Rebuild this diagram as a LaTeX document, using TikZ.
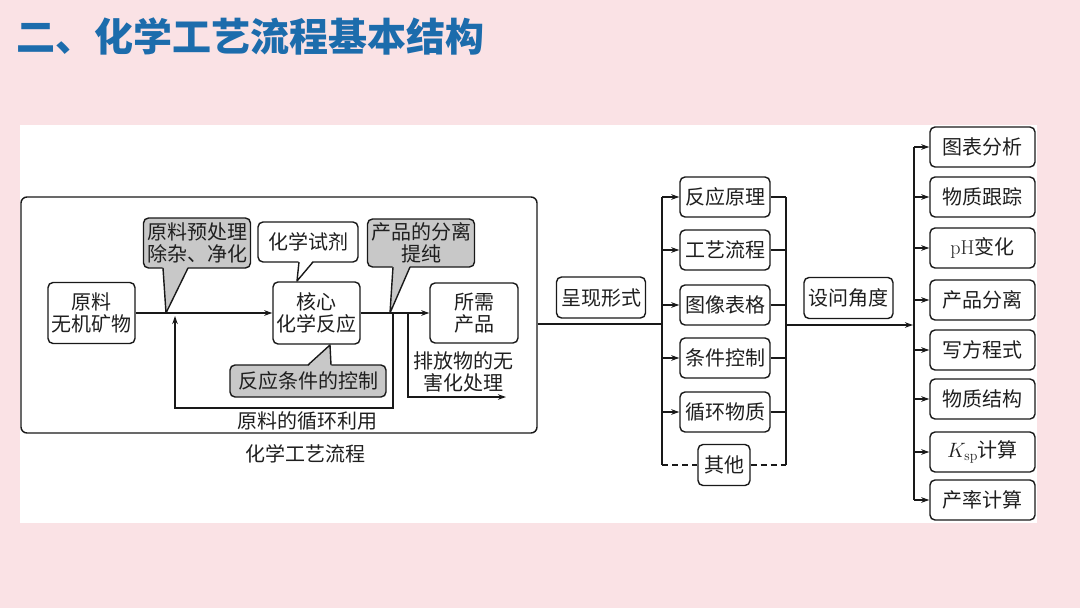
\documentclass[tikz,border=0pt]{standalone}
\usepackage{fontspec}
\newfontfamily\cjk{Noto Sans CJK SC}
\usetikzlibrary{arrows.meta}
\definecolor{bgpink}{RGB}{250,226,229}
\definecolor{titleblue}{RGB}{28,108,172}
\definecolor{callgray}{RGB}{200,200,200}
\begin{document}
\begin{tikzpicture}[x=1pt,y=-1pt,
 lw/.style={line width=1.4pt},
 box/.style={draw=black!90, lw, rounded corners=5pt, fill=white, inner sep=1pt, align=center,
   font=\cjk\fontsize{20}{22}\selectfont, text=black!88},
 gbox/.style={box, fill=callgray},
 arr/.style={lw, draw=black!90, -{Stealth[length=8pt,width=5.5pt]}},
 ln/.style={lw, draw=black!90},
 lbl/.style={align=center, font=\cjk\fontsize{20}{22}\selectfont, inner sep=0pt, text=black!88}
]
\useasboundingbox (0,0) rectangle (1080,608);
\fill[bgpink] (0,0) rectangle (1080,608);
\fill[white] (20,125) rectangle (1037,523);

% title
\node[anchor=west, font=\cjk\bfseries\fontsize{39}{41}\selectfont, text=titleblue, inner sep=0pt]
  (title) at (16,37) {二、化学工艺流程基本结构};

% frame
\node[draw=black!90, lw, rounded corners=6pt, minimum width=516pt, minimum height=236pt, inner sep=0pt]
  (frame) at (279,315) {};
\node[lbl] (framelbl) at (305,454) {化学工艺流程};

% process nodes
\node[box, minimum width=87pt, minimum height=61pt] (raw) at (91.5,313) {原料\\无机矿物};
\node[box, minimum width=87pt, minimum height=62pt] (core) at (316.5,313) {核心\\化学反应};
\node[box, minimum width=88pt, minimum height=60pt] (prod) at (474,313) {所需\\产品};

% callouts
\node[gbox, minimum width=107pt, minimum height=50pt] (pre) at (197,243) {原料预处理\\除杂、净化};
\fill[callgray] (162.6,266) -- (166,313) -- (188.4,266) -- cycle;
\draw[ln, line join=round] (163,268) -- (166,313) -- (188,268);

\node[box, minimum width=100pt, minimum height=40pt] (reag) at (308,242) {化学试剂};
\fill[white] (298.6,260) -- (297,281) -- (313.4,260) -- cycle;
\draw[ln, line join=round] (299,262) -- (297,281) -- (313,262);

\node[gbox, minimum width=156pt, minimum height=32pt] (cond) at (308,381) {反应条件的控制};
\fill[callgray] (307.6,367) -- (330,345) -- (331.4,367) -- cycle;
\draw[ln, line join=round] (308,365) -- (330,345) -- (331,365);

\node[gbox, minimum width=107pt, minimum height=48pt] (sep) at (421,243) {产品的分离\\提纯};
\fill[callgray] (392.6,265) -- (390,313) -- (410.4,265) -- cycle;
\draw[ln, line join=round] (393,267) -- (390,313) -- (410,267);

% main flow
\draw[arr] (raw.east) -- (core.west);
\draw[arr] (core.east) -- (prod.west);

% recycle
\coordinate (fb0) at (393,313);
\coordinate (fb1) at (393,408);
\coordinate (fb2) at (175,408);
\coordinate (fb3) at (175,316);
\draw[arr] (fb0) -- (fb1) -- (fb2) -- (fb3);
\node[lbl] (recyc) at (307,421) {原料的循环利用};

% emission
\coordinate (em0) at (408,313);
\coordinate (em1) at (408,397);
\coordinate (em2) at (506,397);
\draw[arr] (em0) -- (em1) -- (em2);
\node[lbl] (emit) at (463,372) {排放物的无\\害化处理};

% presentation
\node[box, minimum width=89pt, minimum height=41pt] (present) at (601,297.5) {呈现形式};
\coordinate (lbtop) at (662,197);
\coordinate (lbmid) at (662,324);
\coordinate (lbbot) at (662,465);
\coordinate (rbtop) at (786,197);
\coordinate (rbmid) at (786,325);
\coordinate (rbbot) at (786,465);
\draw[ln] (frame.east |- lbmid) -- (lbmid);
\draw[ln] (lbtop) -- (lbbot);
\draw[ln] (rbtop) -- (rbbot);

\foreach \n/\y/\t in {l1/197/反应原理, l2/250/工艺流程, l3/305/图像表格, l4/358/条件控制, l5/412/循环物质}{
  \node[box, minimum width=90pt, minimum height=40pt] (\n) at (725,\y) {\t};
  \draw[arr] (lbtop |- \n.west) -- (\n.west);
  \draw[ln] (\n.east) -- (rbtop |- \n.east);
}
\node[box, minimum width=52pt, minimum height=41pt] (l6) at (724,465) {其他};
\draw[ln, dash pattern=on 6pt off 4pt] (lbbot) -- (l6.west);
\draw[ln, dash pattern=on 6pt off 4pt] (l6.east) -- (rbbot);

% question angle
\node[box, minimum width=89pt, minimum height=41pt] (ask) at (848.5,298) {设问角度};
\coordinate (qbtop) at (914,147);
\coordinate (qbmid) at (913,325);
\coordinate (qbbot) at (914,500);
\draw[arr] (rbmid) -- (qbmid);
\draw[ln] (qbtop) -- (qbbot);

\foreach \n/\y/\t in {r1/147/图表分析, r2/197/物质跟踪, r3/248/{{\normalfont pH}变化}, r4/300/产品分离,
  r5/350/写方程式, r6/399/物质结构, r7/452/{{\normalfont$K_{\mathrm{sp}}$}计算}, r8/500/产率计算}{
  \node[box, minimum width=105pt, minimum height=40pt] (\n) at (982.5,\y) {\t};
  \draw[arr] (qbtop |- \n.west) -- (\n.west);
}
\end{tikzpicture}
\end{document}
